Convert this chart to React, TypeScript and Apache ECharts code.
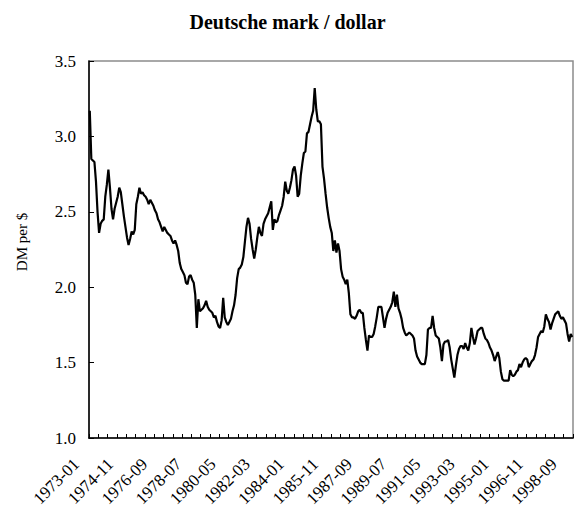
import React, { useEffect, useRef } from "react";
import * as echarts from "echarts";

const startYear = 1973;
const years = 26;

const v1973 = [3.17, 2.85, 2.84, 2.83, 2.70, 2.50, 2.36, 2.42, 2.44, 2.45, 2.60, 2.68];
const v1974 = [2.78, 2.66, 2.52, 2.45, 2.52, 2.56, 2.60, 2.66, 2.63, 2.55, 2.47, 2.40];
const v1975 = [2.33, 2.28, 2.32, 2.37, 2.35, 2.38, 2.55, 2.60, 2.66, 2.62, 2.63, 2.61];
const v1976 = [2.60, 2.58, 2.55, 2.58, 2.56, 2.54, 2.51, 2.49, 2.45, 2.43, 2.40, 2.37];
const v1977 = [2.40, 2.38, 2.36, 2.35, 2.34, 2.31, 2.29, 2.31, 2.28, 2.24, 2.16, 2.12];
const v1978 = [2.10, 2.08, 2.03, 2.02, 2.07, 2.08, 2.05, 2.03, 1.95, 1.73, 1.92, 1.84];
const v1979 = [1.85, 1.86, 1.88, 1.91, 1.87, 1.85, 1.84, 1.83, 1.80, 1.81, 1.77, 1.74];
const v1980 = [1.73, 1.78, 1.93, 1.80, 1.77, 1.75, 1.77, 1.79, 1.84, 1.88, 1.95, 2.06];
const v1981 = [2.12, 2.13, 2.15, 2.20, 2.30, 2.40, 2.46, 2.42, 2.32, 2.25, 2.19, 2.25];
const v1982 = [2.33, 2.40, 2.36, 2.34, 2.42, 2.45, 2.47, 2.49, 2.53, 2.57, 2.38, 2.45];
const v1983 = [2.43, 2.44, 2.48, 2.51, 2.54, 2.60, 2.70, 2.64, 2.62, 2.66, 2.71, 2.78];
const v1984 = [2.80, 2.74, 2.60, 2.62, 2.74, 2.82, 2.89, 2.90, 3.02, 3.03, 3.08, 3.13];
const v1985 = [3.17, 3.32, 3.18, 3.10, 3.10, 3.08, 2.80, 2.72, 2.62, 2.53, 2.46, 2.40];
const v1986 = [2.36, 2.24, 2.31, 2.23, 2.29, 2.24, 2.12, 2.07, 2.05, 2.02, 2.05, 1.96];
const v1987 = [1.82, 1.80, 1.80, 1.79, 1.81, 1.84, 1.85, 1.83, 1.83, 1.73, 1.65, 1.58];
const v1988 = [1.68, 1.67, 1.67, 1.69, 1.74, 1.80, 1.87, 1.87, 1.87, 1.80, 1.73, 1.79];
const v1989 = [1.83, 1.85, 1.87, 1.90, 1.97, 1.87, 1.95, 1.86, 1.83, 1.79, 1.73, 1.70];
const v1990 = [1.68, 1.69, 1.70, 1.69, 1.68, 1.66, 1.58, 1.54, 1.52, 1.50, 1.49, 1.49];
const v1991 = [1.49, 1.55, 1.72, 1.73, 1.73, 1.81, 1.73, 1.68, 1.67, 1.66, 1.60, 1.51];
const v1992 = [1.62, 1.64, 1.64, 1.65, 1.60, 1.52, 1.46, 1.40, 1.48, 1.55, 1.59, 1.61];
const v1993 = [1.61, 1.59, 1.63, 1.60, 1.58, 1.63, 1.73, 1.67, 1.62, 1.66, 1.71, 1.72];
const v1994 = [1.73, 1.73, 1.69, 1.66, 1.65, 1.63, 1.60, 1.58, 1.55, 1.51, 1.54, 1.57];
const v1995 = [1.53, 1.44, 1.39, 1.38, 1.38, 1.38, 1.38, 1.45, 1.42, 1.41, 1.42, 1.44];
const v1996 = [1.45, 1.49, 1.47, 1.50, 1.52, 1.53, 1.52, 1.47, 1.49, 1.51, 1.52, 1.55];
const v1997 = [1.60, 1.67, 1.69, 1.71, 1.70, 1.74, 1.82, 1.79, 1.77, 1.72, 1.76, 1.79];
const v1998 = [1.82, 1.83, 1.84, 1.81, 1.79, 1.80, 1.78, 1.76, 1.69, 1.64, 1.69, 1.67];

const values: number[] = [
  ...v1973, ...v1974, ...v1975, ...v1976, ...v1977, ...v1978, ...v1979,
  ...v1980, ...v1981, ...v1982, ...v1983, ...v1984, ...v1985, ...v1986,
  ...v1987, ...v1988, ...v1989, ...v1990, ...v1991, ...v1992, ...v1993,
  ...v1994, ...v1995, ...v1996, ...v1997, ...v1998,
];

const categories: string[] = [];
for (let y = 0; y < years; y++) {
  for (let m = 1; m <= 12; m++) {
    categories.push(`${startYear + y}-${m < 10 ? "0" + m : m}`);
  }
}

const title = "Deutsche mark / dollar";
const yName = "DM per $";
const FONT = "'Liberation Serif', 'Times New Roman', serif";

export default function App() {
  const ref = useRef<HTMLDivElement>(null);
  useEffect(() => {
    if (!ref.current) return;
    const chart = echarts.init(ref.current, undefined, { renderer: "svg" });
    chart.setOption({
      animation: false,
      backgroundColor: "#fff",
      title: {
        text: title,
        left: "center",
        top: 7,
        textStyle: { fontFamily: FONT, fontWeight: "bold", fontSize: 20, color: "#000" },
      },
      graphic: [
        {
          type: "text",
          x: 22,
          y: 242,
          rotation: Math.PI / 2,
          style: {
            text: yName,
            fontFamily: FONT,
            fontSize: 15,
            fill: "#000",
            align: "center",
            verticalAlign: "middle",
          },
        },
      ],
      grid: {
        left: 89,
        top: 61,
        width: 484,
        height: 377,
        show: true,
        borderColor: "#8c8c8c",
        borderWidth: 1.5,
        backgroundColor: "transparent",
      },
      xAxis: {
        type: "category",
        data: categories,
        boundaryGap: true,
        axisLine: { lineStyle: { color: "#000", width: 1.5 } },
        axisTick: { show: true, interval: 5, inside: true, length: 4, lineStyle: { color: "#000", width: 1 } },
        axisLabel: {
          interval: 21,
          rotate: 45,
          fontFamily: FONT,
          fontSize: 17,
          color: "#000",
          margin: 10,
          padding: [0, 19, 0, 0],
        },
        splitLine: { show: false },
      },
      yAxis: {
        type: "value",
        min: 1,
        max: 3.5,
        interval: 0.5,
        axisLine: { show: true, lineStyle: { color: "#000", width: 1.5 } },
        axisTick: { show: true, inside: true, length: 5, lineStyle: { color: "#000", width: 1 } },
        axisLabel: {
          formatter: (v: number) => v.toFixed(1),
          fontFamily: FONT,
          fontSize: 17,
          color: "#000",
          margin: 13,
        },
        splitLine: { show: false },
      },
      series: [
        {
          type: "line",
          data: values,
          showSymbol: false,
          symbol: "none",
          lineStyle: { color: "#000", width: 2.2 },
        },
      ],
    });
    return () => chart.dispose();
  }, []);
  return (
    <div
      ref={ref}
      style={{ position: "fixed", left: 0, top: 0, width: 575, height: 515 }}
    />
  );
}
